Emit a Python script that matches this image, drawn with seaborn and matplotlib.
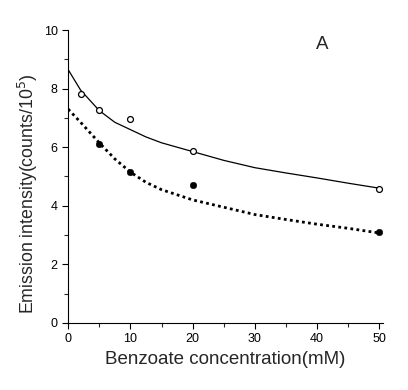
import numpy as np
import pandas as pd
import matplotlib
matplotlib.use("Agg")
import matplotlib.pyplot as plt
from matplotlib.ticker import MultipleLocator
import seaborn as sns

# measured points
open_x = [2, 5, 10, 20, 50]
open_y = [7.8, 7.27, 6.97, 5.87, 4.58]
filled_x = [5, 10, 20, 50]
filled_y = [6.1, 5.15, 4.7, 3.1]

# fitted curves
fit_x = [0, 2, 5, 7.5, 10, 12.5, 15, 20, 25, 30, 35, 40, 45, 50]
fit_open = [8.65, 7.95, 7.25, 6.85, 6.6, 6.35, 6.15, 5.85, 5.55, 5.3, 5.12, 4.95, 4.77, 4.6]
fit_filled = [7.3, 6.85, 6.15, 5.6, 5.15, 4.8, 4.55, 4.2, 3.95, 3.7, 3.53, 3.37, 3.23, 3.07]

sns.set_style("white")
plt.rcParams['font.family'] = ['Liberation Sans', 'DejaVu Sans']

fig = plt.figure(figsize=(4.08, 3.90), dpi=100)
ax = fig.add_axes([0.167, 0.172, 0.772, 0.751])

fits = pd.DataFrame({"x": fit_x, "open": fit_open, "filled": fit_filled})
sns.lineplot(data=fits, x="x", y="open", ax=ax, color="black", lw=0.9)
sns.lineplot(data=fits, x="x", y="filled", ax=ax, color="black", lw=2.0,
             linestyle=(0, (1, 1.2)))

sns.scatterplot(x=open_x, y=open_y, ax=ax, marker="o", s=18,
                facecolor="white", edgecolor="black", linewidth=0.9, zorder=3)
sns.scatterplot(x=filled_x, y=filled_y, ax=ax, marker="o", s=22,
                color="black", edgecolor="black", zorder=3)

ax.set_xlim(0, 50.6)
ax.set_ylim(0, 10)
ax.xaxis.set_major_locator(MultipleLocator(10))
ax.xaxis.set_minor_locator(MultipleLocator(5))
ax.yaxis.set_major_locator(MultipleLocator(2))
ax.yaxis.set_minor_locator(MultipleLocator(1))
ax.tick_params(which="major", direction="out", length=4, width=0.8,
               labelsize=9, colors="black", bottom=True, left=True)
ax.tick_params(which="minor", direction="out", length=3, width=0.8,
               bottom=True, left=True)

for side in ["top", "right"]:
    ax.spines[side].set_visible(False)
for side in ["left", "bottom"]:
    ax.spines[side].set_color("black")
    ax.spines[side].set_linewidth(0.8)

ax.set_xlabel("Benzoate concentration(mM)", fontsize=13.5, labelpad=4)
ax.set_ylabel("Emission intensity(counts/10$^5$)", fontsize=12.8)
ax.yaxis.set_label_coords(-0.09, 0.44)
ax.text(40.8, 9.5, "A", fontsize=13.5, ha="center", va="center")

fig.savefig("out.png", dpi=100)
